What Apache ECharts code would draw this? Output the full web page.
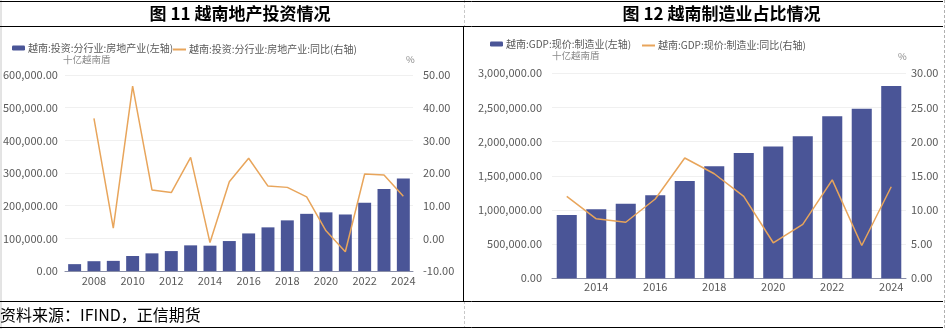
<!DOCTYPE html>
<html><head><meta charset="utf-8">
<script src="https://cdn.jsdelivr.net/npm/echarts@6/dist/echarts.min.js"></script>
<style>html,body{margin:0;padding:0;background:#fff}#c{width:947px;height:329px}</style>
</head><body><div id="c"></div>
<script>
// Left chart: Vietnam real-estate investment
const yearsA = ['2007','2008','2009','2010','2011','2012','2013','2014','2015','2016','2017','2018','2019','2020','2021','2022','2023','2024'];
const investA = [21000,30000,31000,46000,54000,61000,78500,77500,91700,115000,133600,155000,175000,179500,173000,209000,251000,283500];
const yoyA = [null,36.7,3.1,46.6,14.8,14.0,24.8,-1.3,17.3,24.5,16.0,15.6,12.7,2.3,-4.1,19.7,19.4,12.9];
// Right chart: Vietnam manufacturing GDP
const yearsB = ['2013','2014','2015','2016','2017','2018','2019','2020','2021','2022','2023','2024'];
const gdpB = [927000,1010000,1092000,1215000,1424000,1639000,1834000,1927000,2078000,2371000,2483000,2814000];
const yoyB = [12.0,8.7,8.2,11.6,17.6,15.3,12.0,5.2,7.9,14.4,4.8,13.4];

const nameBarA = '越南:投资:分行业:房地产业(左轴)';
const nameLineA = '越南:投资:分行业:房地产业:同比(右轴)';
const nameBarB = '越南:GDP:现价:制造业(左轴)';
const nameLineB = '越南:GDP:现价:制造业:同比(右轴)';

const BAR = '#4A5597', LINE = '#E8A55B', LBL = '#595959';
const FONT = '"Noto Sans CJK SC", "Noto Sans", sans-serif';
const fmt = v => v.toLocaleString('en-US',{minimumFractionDigits:2,maximumFractionDigits:2});

const chart = echarts.init(document.getElementById('c'));
const axisLbl = (m) => ({color:LBL,fontSize:11,fontFamily:FONT,margin:m,formatter:fmt});
const split = {show:true,lineStyle:{color:'#f0f0f0',width:1}};
const xa = (gi, data, m) => ({type:'category',gridIndex:gi,data:data,
  axisTick:{show:false},axisLine:{lineStyle:{color:'#8a8fa8'}},
  axisLabel:{color:LBL,fontSize:11,fontFamily:FONT,margin:m,interval:(i)=>i%2===1}});
const lg = (left, top, name, isLine) => ({left:left,top:top,padding:0,itemWidth:13,itemHeight:isLine?2:5,
  icon:isLine?'rect':'roundRect',data:[name],textStyle:{color:LBL,fontSize:10,fontFamily:FONT,padding:[0,0,0,-2]},selectedMode:false});
const line = (x1,y1,x2,y2,color,dash) => ({type:'line',shape:{x1:x1,y1:y1,x2:x2,y2:y2},
  style:{stroke:color,lineWidth:1,lineDash:dash||null},silent:true});
const txt = (x,y,t,size,color,align,weight) => ({type:'text',x:x,y:y,
  style:{text:t,fontSize:size,fill:color,fontFamily:FONT,align:align||'left',verticalAlign:'middle',fontWeight:weight||'normal'}});

chart.setOption({
  animation:false,
  backgroundColor:'#fff',
  legend:[lg(12,43,nameBarA,false),lg(173,44.5,nameLineA,true),lg(490,39,nameBarB,false),lg(642,40.5,nameLineB,true)],
  grid:[{left:62,right:534,top:75,bottom:58},{left:552,right:41,top:73.3,bottom:50.7}],
  xAxis:[xa(0,yearsA,4),xa(1,yearsB,3)],
  yAxis:[
    {type:'value',gridIndex:0,min:0,max:600000,interval:100000,axisLabel:axisLbl(7),splitLine:split,axisLine:{show:false},axisTick:{show:false}},
    {type:'value',gridIndex:0,min:-10,max:50,interval:10,position:'right',axisLabel:axisLbl(10),splitLine:{show:false},axisLine:{show:false},axisTick:{show:false}},
    {type:'value',gridIndex:1,min:0,max:3000000,interval:500000,axisLabel:axisLbl(10),splitLine:split,axisLine:{show:false},axisTick:{show:false}},
    {type:'value',gridIndex:1,min:0,max:30,interval:5,position:'right',axisLabel:axisLbl(5),splitLine:{show:false},axisLine:{show:false},axisTick:{show:false}}
  ],
  series:[
    {name:nameBarA,type:'bar',xAxisIndex:0,yAxisIndex:0,data:investA,barWidth:'67%',itemStyle:{color:BAR}},
    {name:nameLineA,type:'line',xAxisIndex:0,yAxisIndex:1,data:yoyA,symbol:'none',lineStyle:{color:LINE,width:1.5},itemStyle:{color:LINE}},
    {name:nameBarB,type:'bar',xAxisIndex:1,yAxisIndex:2,data:gdpB,barWidth:'68%',itemStyle:{color:BAR}},
    {name:nameLineB,type:'line',xAxisIndex:1,yAxisIndex:3,data:yoyB,symbol:'none',lineStyle:{color:LINE,width:1.5},itemStyle:{color:LINE}}
  ],
  graphic:[
    line(1,0,1,329,'#c8c8c8'),
    line(944.5,0,944.5,329,'#b0b0b0',[3,2]),
    line(464.5,0,464.5,26,'#c8c8c8',[3,2]),
    line(464.5,301,464.5,327,'#c8c8c8',[3,2]),
    line(0,1.5,943,1.5,'#000'),
    line(0,26.5,943,26.5,'#000'),
    line(463.5,26,463.5,301,'#000'),
    line(0,301.5,943,301.5,'#000'),
    line(0,327.5,943,327.5,'#000'),
    txt(240,13.5,'图 11 越南地产投资情况',17,'#000','center','bold'),
    txt(721.5,13.5,'图 12 越南制造业占比情况',17,'#000','center','bold'),
    txt(0,315,'资料来源：IFIND，正信期货',16,'#000','left','normal'),
    txt(63,59,'十亿越南盾',9.5,'#8a8a8a'),
    txt(406,59,'%',9.5,'#8a8a8a'),
    txt(552,55,'十亿越南盾',9.5,'#8a8a8a'),
    txt(898,56,'%',9.5,'#8a8a8a')
  ]
});
</script></body></html>
